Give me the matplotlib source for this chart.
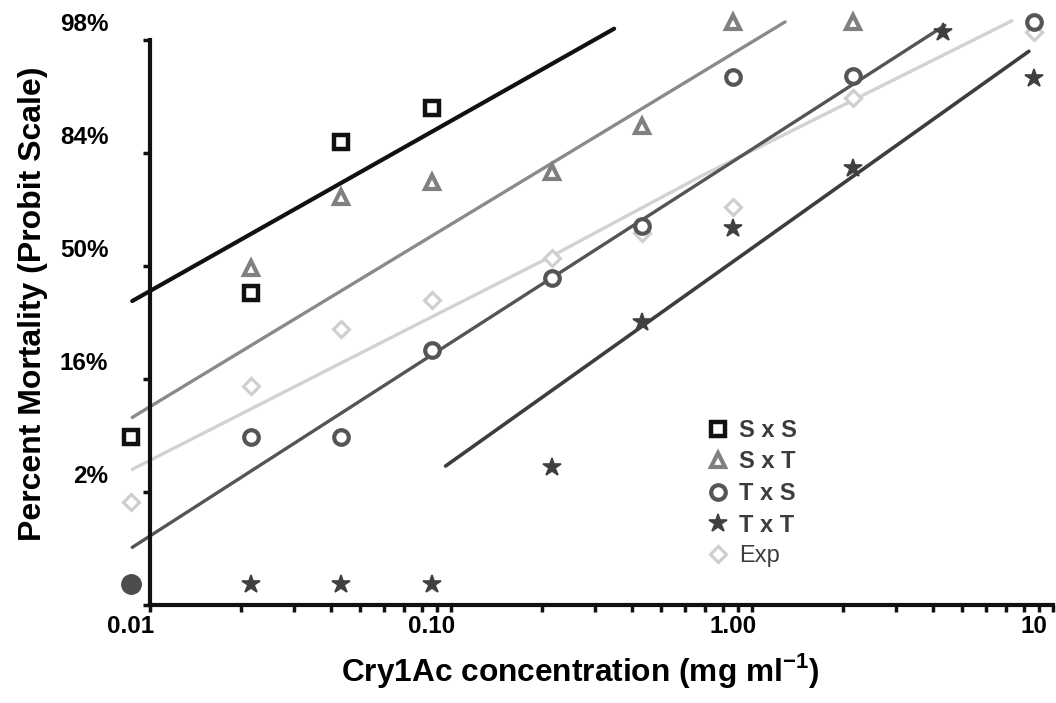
"""
Probit mortality of four crosses and the expected (Exp) response
against Cry1Ac concentration, log-scale x axis.
"""

import matplotlib.pyplot as plt
import matplotlib.transforms as mtransforms
from matplotlib.ticker import FixedLocator, NullFormatter, NullLocator

plt.rcParams["font.family"] = ["Liberation Sans", "DejaVu Sans"]
plt.rcParams["mathtext.fontset"] = "custom"
plt.rcParams["mathtext.rm"] = "Liberation Sans"
plt.rcParams["mathtext.bf"] = "Liberation Sans:bold"

# -- Observed mortality, in probit units (0 = 50 %, 1 = 84 %, 2 = 98 %) --------

ss_x = [0.01, 0.025, 0.05, 0.1]
ss_y = [-1.67, -0.40, 0.94, 1.24]

st_x = [0.025, 0.05, 0.1, 0.25, 0.5, 1.0, 2.5]
st_y = [-0.18, 0.45, 0.58, 0.67, 1.08, 2.0, 2.0]

ts_x = [0.025, 0.05, 0.1, 0.25, 0.5, 1.0, 2.5, 10.0]
ts_y = [-1.67, -1.67, -0.90, -0.27, 0.19, 1.51, 1.52, 2.0]

tt_x = [0.25, 0.5, 1.0, 2.5, 5.0, 10.0]
tt_y = [-1.94, -0.66, 0.18, 0.71, 1.91, 1.50]

exp_x = [0.01, 0.025, 0.05, 0.1, 0.25, 0.5, 1.0, 2.5, 10.0]
exp_y = [-2.25, -1.22, -0.72, -0.46, -0.09, 0.13, 0.36, 1.33, 1.91]

# zero mortality sits on the floor of the scale
zero_y = -2.97
tt_zero_x = [0.025, 0.05, 0.1]
pooled_zero_x = [0.01]

# -- Fitted probit lines --------------------------------------------------------

ss_fit_x = [0.0101, 0.403]
ss_fit_y = [-0.47, 1.94]
st_fit_x = [0.0101, 1.49]
st_fit_y = [-1.50, 2.00]
ts_fit_x = [0.0101, 5.06]
ts_fit_y = [-2.65, 1.97]
tt_fit_x = [0.111, 9.62]
tt_fit_y = [-1.93, 1.74]
exp_fit_x = [0.0101, 0.0801, 0.247, 0.777, 8.45]
exp_fit_y = [-1.96, -0.74, -0.08, 0.63, 2.01]

# -- Axis ticks -------------------------------------------------------------------

y_probit = [-3, -2, -1, 0, 1, 2]
y_labels = ["", "2%", "16%", "50%", "84%", "98%"]
x_decades = [0.01, 0.1, 1.0, 10.0]
x_labels = ["0.01", "0.10", "1.00", "10"]

# the printed axis is slightly displaced from the plotted points
X_SHIFT = 1.157     # multiplicative, on the log axis
Y_SHIFT = 0.16      # probit units

# -- Plot ---------------------------------------------------------------------------

fig = plt.figure(figsize=(10.56, 7.03), dpi=100)
ax = fig.add_axes([150 / 1056, 98 / 703, 903 / 1056, 565 / 703])
ax.set_xscale("log")
ax.set_xlim(0.01 * X_SHIFT, 10 * X_SHIFT)
ax.set_ylim(-3 - Y_SHIFT, 2 - Y_SHIFT)

line_kw = dict(solid_capstyle="round", clip_on=False, zorder=2)
ax.plot(ss_fit_x, ss_fit_y, color="#111111", lw=3.0, **line_kw)
ax.plot(st_fit_x, st_fit_y, color="#8a8a8a", lw=2.4, **line_kw)
ax.plot(exp_fit_x, exp_fit_y, color="#d2d2d2", lw=2.4, **line_kw)
ax.plot(ts_fit_x, ts_fit_y, color="#555555", lw=2.4, **line_kw)
ax.plot(tt_fit_x, tt_fit_y, color="#3d3d3d", lw=2.6, **line_kw)

pt_kw = dict(linestyle="none", clip_on=False, zorder=3)
ax.plot(exp_x, exp_y, marker="D", ms=8, mfc="white", mec="#cfcfcf",
        mew=2.3, label="Exp", **pt_kw)
ax.plot(ss_x, ss_y, marker="s", ms=10.5, mfc="white", mec="#111111",
        mew=3.2, label="S x S", **pt_kw)
ax.plot(st_x, st_y, marker="^", ms=10, mfc="white", mec="#808080",
        mew=3.0, label="S x T", **pt_kw)
ax.plot(ts_x, ts_y, marker="o", ms=10.5, mfc="white", mec="#555555",
        mew=3.0, label="T x S", **pt_kw)
ax.plot(tt_x, tt_y, marker="*", ms=13.5, color="#404040", mew=1.2,
        label="T x T", **pt_kw)
ax.plot(tt_zero_x, [zero_y] * len(tt_zero_x), marker="*", ms=13.5,
        mew=1.2, color="#404040", **pt_kw)
ax.plot(pooled_zero_x, [zero_y] * len(pooled_zero_x), marker="o", ms=14,
        color="#4d4d4d", **pt_kw)

# Axes: only left and bottom spines, thick
for side in ("top", "right"):
    ax.spines[side].set_visible(False)
for side in ("left", "bottom"):
    ax.spines[side].set_linewidth(3.0)
    ax.spines[side].set_color("#111111")

ax.yaxis.set_major_locator(FixedLocator([p - Y_SHIFT for p in y_probit]))
ax.yaxis.set_minor_locator(NullLocator())
ax.set_yticklabels(y_labels, fontsize=17.5, fontweight="bold")

ax.xaxis.set_major_locator(FixedLocator([d * X_SHIFT for d in x_decades]))
ax.xaxis.set_minor_locator(FixedLocator(
    [m * d * X_SHIFT for d in x_decades[:-1] for m in range(2, 10)]))
ax.xaxis.set_minor_formatter(NullFormatter())
ax.set_xticklabels(x_labels, fontsize=17.5, fontweight="bold")

ax.tick_params(axis="both", which="both", direction="out", length=5,
               width=2.5, color="#111111")
ax.tick_params(axis="y", pad=25)
ax.tick_params(axis="x", pad=2)

# move the tick labels back onto the point columns / rows
dx = mtransforms.ScaledTranslation(-19 / 100, 0, fig.dpi_scale_trans)
dy = mtransforms.ScaledTranslation(0, 18 / 100, fig.dpi_scale_trans)
for lbl in ax.get_xticklabels():
    lbl.set_transform(lbl.get_transform() + dx)
for lbl in ax.get_yticklabels():
    lbl.set_transform(lbl.get_transform() + dy)

ax.set_xlabel(r"Cry1Ac concentration (mg ml$^{\mathbf{-1}}$)",
              fontsize=22.8, fontweight="bold")
ax.xaxis.set_label_coords(0.476, -0.082)
ax.set_ylabel("Percent Mortality (Probit Scale)", fontsize=23,
              fontweight="bold")
ax.yaxis.set_label_coords(-0.113, 0.534)

handles, labels = ax.get_legend_handles_labels()
order = ["S x S", "S x T", "T x S", "T x T", "Exp"]
handles = [handles[labels.index(name)] for name in order]
leg = ax.legend(handles, order, loc="upper left",
                bbox_to_anchor=(707 / 1056, 1 - 419 / 703),
                bbox_transform=fig.transFigure, frameon=False, fontsize=17,
                handlelength=0.95, handletextpad=0.4, labelspacing=0.36,
                borderpad=0, borderaxespad=0)
for txt in leg.get_texts():
    txt.set_color("#3c3c3c")
    txt.set_fontweight("bold")
leg.get_texts()[-1].set_fontweight("normal")

plt.savefig("out.png", dpi=100)
